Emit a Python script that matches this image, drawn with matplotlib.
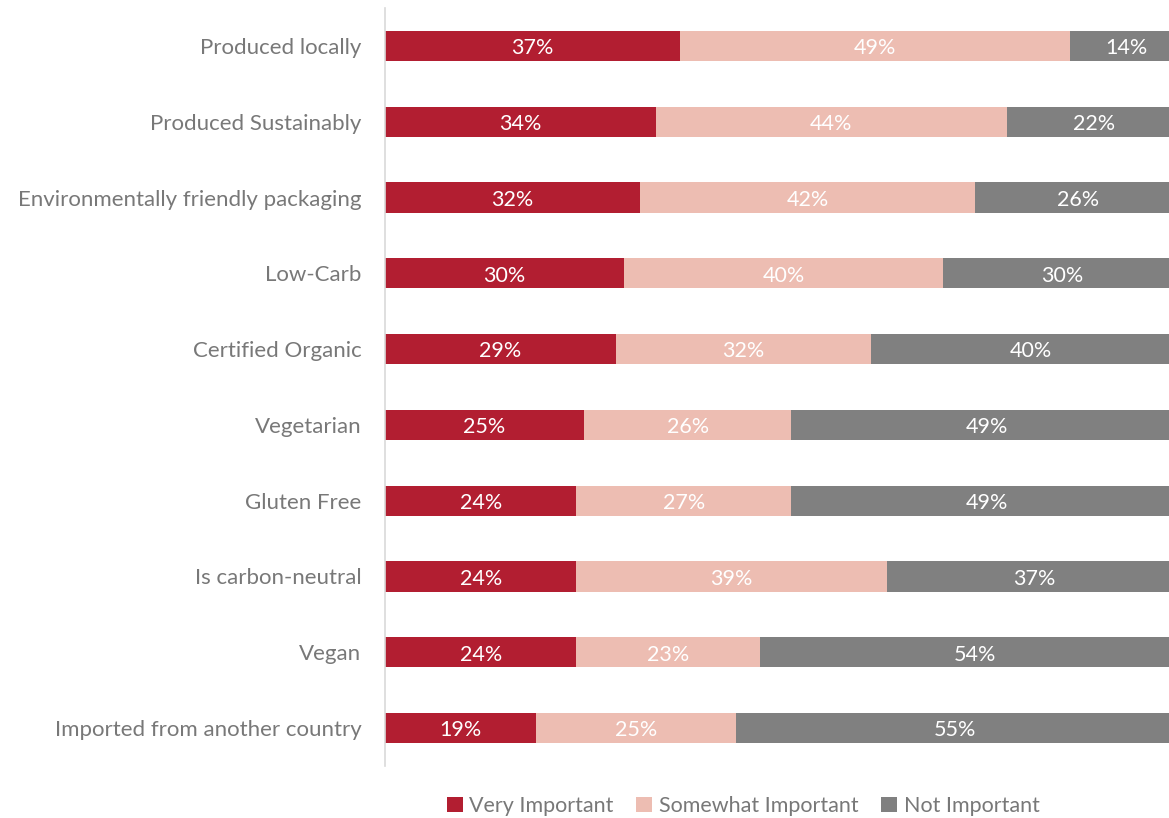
import matplotlib
matplotlib.use("Agg")
import matplotlib.pyplot as plt
from matplotlib.patches import Patch

categories = [
    "Produced locally",
    "Produced Sustainably",
    "Environmentally friendly packaging",
    "Low-Carb",
    "Certified Organic",
    "Vegetarian",
    "Gluten Free",
    "Is carbon-neutral",
    "Vegan",
    "Imported from another country",
]
very_important = [37, 34, 32, 30, 29, 25, 24, 24, 24, 19]
somewhat_important = [49, 44, 42, 40, 32, 26, 27, 39, 23, 25]
not_important = [14, 22, 26, 30, 40, 49, 49, 37, 54, 55]

series_names = ["Very Important", "Somewhat Important", "Not Important"]
colors = ["#B21E31", "#EDBDB2", "#808080"]
label_gray = "#787878"

plt.rcParams["font.family"] = ["Lato", "DejaVu Sans"]

fig = plt.figure(figsize=(11.69, 8.18), dpi=100)
ax = fig.add_axes([385 / 1169, 1 - 766 / 818, 797 / 1169, 758 / 818])

y = list(range(len(categories)))
left = [0] * len(categories)
for name, vals, col in zip(series_names, [very_important, somewhat_important, not_important], colors):
    ax.barh(y, vals, left=left, height=0.4, color=col, label=name, edgecolor="none")
    for yi, l, v in zip(y, left, vals):
        ax.text(l + v / 2, yi + 0.03, f"{v}%", ha="center", va="center", color="white", fontsize=15.5)
    left = [a + b for a, b in zip(left, vals)]

ax.set_xlim(0, 100)
ax.set_ylim(len(categories) - 0.5, -0.5)
ax.set_yticks(y)
ax.set_yticklabels(categories, fontsize=16, color=label_gray)
ax.tick_params(axis="y", length=0, pad=17)
ax.set_xticks([])
for side in ["top", "right", "bottom"]:
    ax.spines[side].set_visible(False)
ax.spines["left"].set_color("#D9D9D9")
ax.spines["left"].set_linewidth(1.2)

handles = [Patch(facecolor=c, edgecolor="none") for c in colors]
fig.legend(handles, series_names, loc="center", bbox_to_anchor=(743 / 1169, 1 - 806 / 818),
           ncol=3, frameon=False, fontsize=15.5, handlelength=0.75, handleheight=0.75,
           handletextpad=0.3, columnspacing=1.05, labelcolor=label_gray)

fig.savefig("out.png", dpi=100)
